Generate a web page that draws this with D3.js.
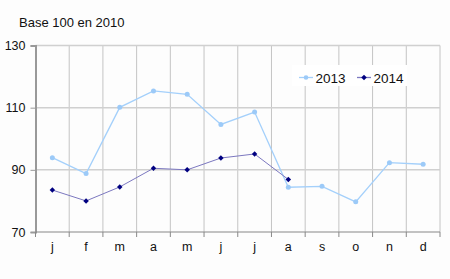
<!DOCTYPE html>
<html>
<head>
<meta charset="utf-8">
<script src="https://cdn.jsdelivr.net/npm/d3@7"></script>
<style>
  body { margin: 0; background: #fdfdfd; }
  text { font-family: "Liberation Sans", Arial, sans-serif; fill: #111; }
</style>
</head>
<body>
<script>
const months = ['j', 'f', 'm', 'a', 'm', 'j', 'j', 'a', 's', 'o', 'n', 'd'];
const values2013 = [93.9, 88.8, 110.1, 115.4, 114.3, 104.6, 108.6, 84.4, 84.7, 79.7, 92.3, 91.8];
const values2014 = [83.5, 80.0, 84.5, 90.5, 90.0, 93.8, 95.1, 86.9];
const yTicks = [70, 90, 110, 130];
const seriesNames = ['2013', '2014'];

const w = 450, h = 279;
const margin = { top: 45.5, right: 10, bottom: 47, left: 35.5 };

const svg = d3.select('body').append('svg')
  .attr('width', w)
  .attr('height', h);

svg.append('text')
  .attr('x', 19)
  .attr('y', 26.5)
  .style('font-size', '13px')
  .text('Base 100 en 2010');

const idx = months.map((m, i) => i);
const x = d3.scaleBand()
  .domain(idx)
  .range([margin.left, w - margin.right]);

const y = d3.scaleLinear()
  .domain([70, 130])
  .range([h - margin.bottom, margin.top]);

// vertical grid at month boundaries
const bounds = idx.slice(1).map(i => x(i)).concat([x.range()[1]]);
svg.append('g')
  .selectAll('line')
  .data(bounds)
  .enter()
  .append('line')
  .attr('x1', d => d).attr('x2', d => d)
  .attr('y1', y(130)).attr('y2', y(70))
  .attr('stroke', '#c4c4c4')
  .attr('stroke-width', 1);

// horizontal grid
svg.append('g')
  .selectAll('line')
  .data(yTicks.filter(d => d > 70))
  .enter()
  .append('line')
  .attr('x1', margin.left).attr('x2', w - margin.right)
  .attr('y1', d => y(d)).attr('y2', d => y(d))
  .attr('stroke', '#d0d0d0')
  .attr('stroke-width', 1.5);

// y axis
const yAxis = d3.axisLeft(y).tickValues(yTicks).tickSize(5).tickPadding(5);
const gy = svg.append('g')
  .attr('transform', `translate(${margin.left},0)`)
  .call(yAxis);
gy.select('.domain').attr('stroke', '#999').attr('stroke-width', 2);
gy.selectAll('.tick line').attr('stroke', '#999');
gy.selectAll('.tick text')
  .style('font-size', '12.5px')
  .attr('fill', '#111');

// x axis
const gx = svg.append('g')
  .attr('transform', `translate(0,${y(70)})`);
gx.append('line')
  .attr('x1', margin.left).attr('x2', w - margin.right)
  .attr('stroke', '#888').attr('stroke-width', 1.2);
gx.selectAll('.tk')
  .data([margin.left].concat(bounds))
  .enter()
  .append('line')
  .attr('x1', d => d).attr('x2', d => d)
  .attr('y1', 0).attr('y2', 5)
  .attr('stroke', '#888');
gx.selectAll('.lbl')
  .data(idx)
  .enter()
  .append('text')
  .attr('x', i => x(i) + x.bandwidth() / 2)
  .attr('y', 19)
  .attr('text-anchor', 'middle')
  .style('font-size', '12.5px')
  .text(i => months[i]);

const line = d3.line()
  .x((d, i) => x(i) + x.bandwidth() / 2)
  .y(d => y(d));

// 2013
svg.append('path')
  .datum(values2013)
  .attr('d', line)
  .attr('fill', 'none')
  .attr('stroke', '#a4d0fb')
  .attr('stroke-width', 1.3);
svg.selectAll('.p13')
  .data(values2013)
  .enter()
  .append('circle')
  .attr('cx', (d, i) => x(i) + x.bandwidth() / 2)
  .attr('cy', d => y(d))
  .attr('r', 2.5)
  .attr('fill', '#9ccaf8');

// 2014
svg.append('path')
  .datum(values2014)
  .attr('d', line)
  .attr('fill', 'none')
  .attr('stroke', '#7c78c0')
  .attr('stroke-width', 1);
const diamond = d3.symbol().type(d3.symbolSquare).size(15);
svg.selectAll('.p14')
  .data(values2014)
  .enter()
  .append('path')
  .attr('d', diamond)
  .attr('transform', (d, i) => `translate(${x(i) + x.bandwidth() / 2},${y(d)}) rotate(45)`)
  .attr('fill', '#000080');

// legend
const lg = svg.append('g');
lg.append('rect')
  .attr('x', 292).attr('y', 65)
  .attr('width', 115).attr('height', 21)
  .attr('fill', '#fff');
const lgColors = ['#a4d0fb', '#7c78c0'];
const lgX = [299, 357];
seriesNames.forEach((s, i) => {
  lg.append('line')
    .attr('x1', lgX[i]).attr('x2', lgX[i] + 14)
    .attr('y1', 77.5).attr('y2', 77.5)
    .attr('stroke', lgColors[i]).attr('stroke-width', 1.3);
  if (i === 0) {
    lg.append('circle').attr('cx', lgX[i] + 7).attr('cy', 77.5).attr('r', 2.3).attr('fill', '#9ccaf8');
  } else {
    lg.append('path').attr('d', diamond).attr('transform', `translate(${lgX[i] + 7},77.5) rotate(45)`).attr('fill', '#000080');
  }
  lg.append('text')
    .attr('x', lgX[i] + 16.5)
    .attr('y', 82.5)
    .style('font-size', '13.5px')
    .text(s);
});
</script>
</body>
</html>
